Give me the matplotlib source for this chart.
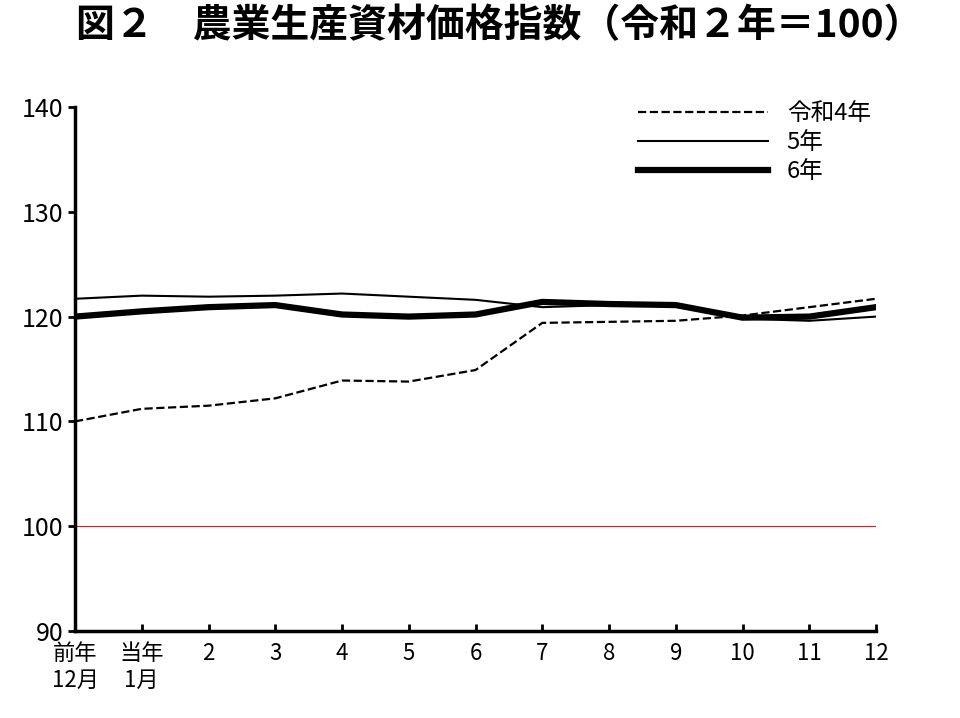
import matplotlib
matplotlib.use('Agg')
import matplotlib.pyplot as plt

plt.rcParams['font.family'] = ['Noto Sans CJK JP']

xLabels = ['前年\n12月', '当年\n1月', '2', '3', '4', '5', '6', '7', '8', '9', '10', '11', '12']
r4 = [110.0, 111.2, 111.5, 112.2, 113.9, 113.8, 114.9, 119.4, 119.5, 119.6, 120.1, 120.9, 121.7]
r5 = [121.7, 122.0, 121.9, 122.0, 122.2, 121.9, 121.6, 120.9, 121.1, 121.0, 119.8, 119.6, 120.0]
r6 = [120.0, 120.5, 120.9, 121.1, 120.2, 120.0, 120.2, 121.4, 121.2, 121.1, 119.9, 120.0, 120.9]

fig = plt.figure(figsize=(9.6, 7.18), dpi=100)
ax = fig.add_axes([75/960, 1-631/718, (876-75)/960, (631-107)/718])

x = list(range(len(xLabels)))
ax.axhline(100, color='#b03030', lw=0.8)
ax.plot(x, r4, 'k--', lw=1.6, label='令和4年')
ax.plot(x, r5, 'k-', lw=1.5, label='5年')
ax.plot(x, r6, 'k-', lw=4.5, label='6年')

ax.set_xlim(0, 12)
ax.set_ylim(90, 140)
ax.set_yticks(range(90, 141, 10))
ax.set_xticks(x)
ax.set_xticklabels(xLabels, fontsize=16)
ax.tick_params(axis='y', labelsize=18, direction='out', length=5, width=2)
ax.tick_params(axis='x', direction='in', length=5, width=2, pad=8)
for s in ['top', 'right']:
    ax.spines[s].set_visible(False)
for s in ['left', 'bottom']:
    ax.spines[s].set_linewidth(2.5)

ax.legend(loc='upper right', bbox_to_anchor=(1.02, 1.05), frameon=False, fontsize=17,
          handlelength=5.5, labelspacing=0.25)
fig.text(0.52, 0.965, '図２　農業生産資材価格指数（令和２年＝100）', ha='center', va='center',
         fontsize=28, fontweight='bold')
fig.savefig('out.png')
